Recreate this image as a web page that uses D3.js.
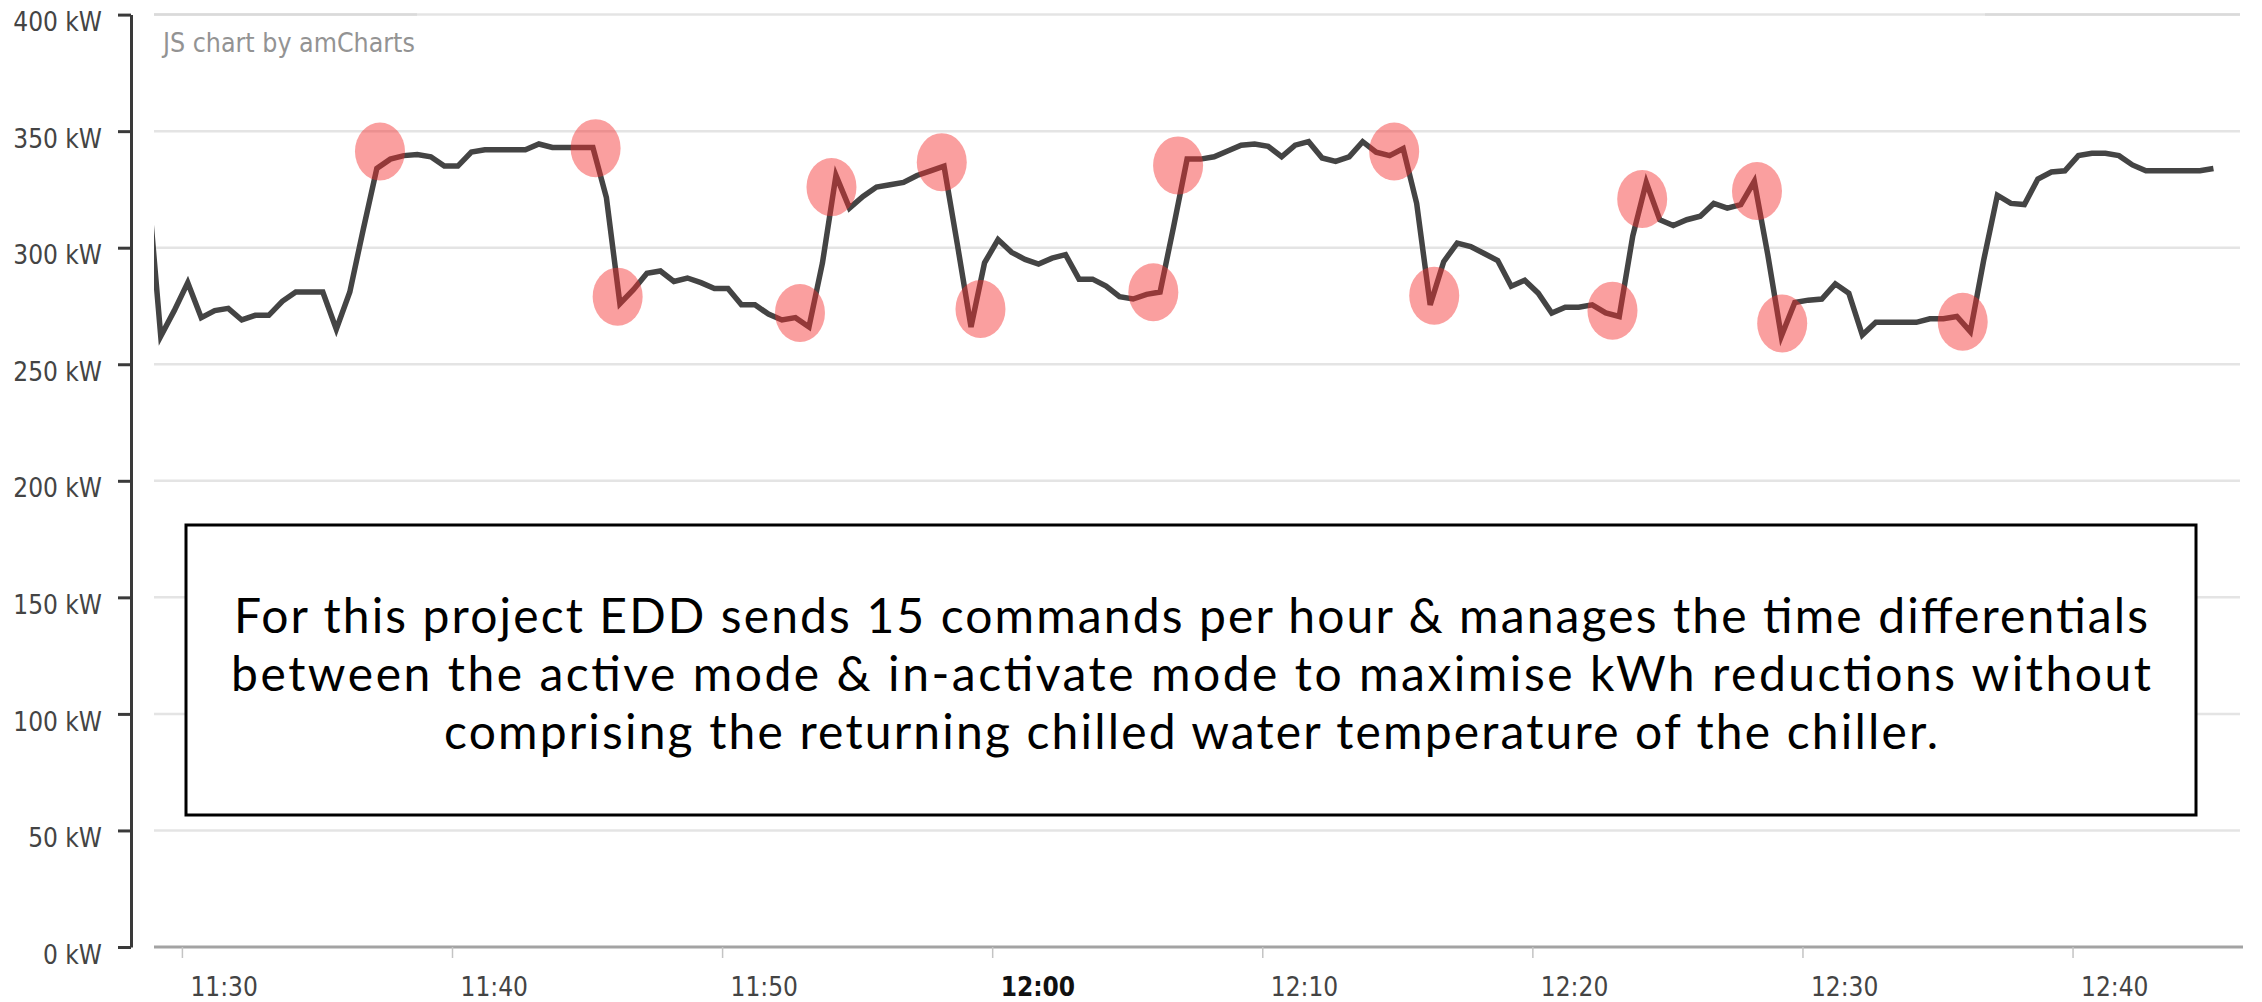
<!DOCTYPE html>
<html>
<head>
<meta charset="utf-8">
<script src="https://cdn.jsdelivr.net/npm/d3@7"></script>
<style>
  html, body { margin: 0; padding: 0; background: #fff; }
  svg { display: block; }
  .axis text { font-family: "DejaVu Sans Condensed", "DejaVu Sans", sans-serif; font-stretch: condensed; }
</style>
</head>
<body>
<svg id="chart" width="2262" height="1002"></svg>
<script>
// chiller power, one reading every 30 seconds (kW)
const startTime = "11:28:43";
const stepSeconds = 30;
const powerKw = [
  330, 262, 273, 285, 270, 273, 274, 269, 271, 271,
  277, 281, 281, 281, 265, 281, 308, 334, 338, 339.5,
  340, 339, 335, 335, 341, 342, 342, 342, 342, 344.5,
  343, 343, 343, 343, 321.5, 276, 282, 289, 290, 285.5,
  287, 285, 282.5, 282.5, 275.5, 275.5, 271.5, 269, 270, 266,
  293.5, 331, 317, 322, 326, 327, 328, 331, 333, 335,
  301, 266, 293.5, 303.5, 298, 295, 293, 295.5, 297, 286.5,
  286.5, 283.5, 279, 278, 280, 281, 309, 338, 338, 339,
  341.5, 344, 344.5, 343.5, 339, 344, 345.5, 338.5, 337, 339,
  345.5, 341, 339.5, 342.5, 319, 275.5, 294, 302, 300.5, 297.5,
  294.5, 283.5, 286, 280.5, 272, 274.5, 274.5, 275.5, 272, 270.5,
  305, 328, 312, 309.5, 312, 313.5, 319, 317, 318.5, 328.5,
  297, 262, 276.5, 277.5, 278, 284.5, 280.5, 262.5, 268, 268,
  268, 268, 269.5, 269.5, 270.5, 264, 295, 322.5, 319, 318.5,
  329.5, 332.5, 333, 339.5, 340.5, 340.5, 339.5, 335.5, 333, 333,
  333, 333, 333, 334
];

const yTicks = [0, 50, 100, 150, 200, 250, 300, 350, 400];
const xTicks = ["11:30", "11:40", "11:50", "12:00", "12:10", "12:20", "12:30", "12:40"];
const boldTick = "12:00";

// highlighted command points (time, kW)
const markerTimes = [
  "11:37:20", "11:45:19", "11:46:08", "11:52:53", "11:54:03", "11:58:08",
  "11:59:34", "12:05:58", "12:06:53", "12:14:53", "12:16:22", "12:22:58",
  "12:24:04", "12:28:19", "12:29:15", "12:35:56"
];
const markerKw = [
  341.3, 342.7, 279, 272, 326, 336.7,
  273.7, 280.9, 335.3, 341.3, 279.4, 273,
  320.9, 324.3, 267.5, 268.2
];

const noteLines = [
  "For this project EDD sends 15 commands per hour & manages the time differentials",
  "between the active mode & in-activate mode to maximise kWh reductions without",
  "comprising the returning chilled water temperature of the chiller."
];
const noteWidths = [1914, 1920, 1494];

const svg = d3.select("#chart");
const parseTime = d3.timeParse("%H:%M:%S");
const parseTick = d3.timeParse("%H:%M");

const plotLeft = 154, plotRight = 2240, plotTop = 14.6, plotBottom = 947;

const x = d3.scaleTime()
  .domain([parseTime("11:28:58"), parseTime("12:46:12")])
  .range([plotLeft, plotRight]);
const y = d3.scaleLinear().domain([0, 400]).range([plotBottom, plotTop]);

const t0 = parseTime(startTime);
const data = powerKw.map((v, i) => ({ t: new Date(t0.getTime() + i * stepSeconds * 1000), v: v }));

// grid
svg.append("g")
  .selectAll("line")
  .data(yTicks.filter((d) => d > 0))
  .enter()
  .append("line")
  .attr("x1", plotLeft)
  .attr("x2", plotRight)
  .attr("y1", (d) => y(d))
  .attr("y2", (d) => y(d))
  .attr("stroke", "#e4e4e4")
  .attr("stroke-width", 2.5);

// slightly darker bits of the top grid line
svg.append("line")
  .attr("x1", plotLeft).attr("x2", 417)
  .attr("y1", y(400)).attr("y2", y(400))
  .attr("stroke", "#dadada").attr("stroke-width", 2.5);
svg.append("line")
  .attr("x1", 1985).attr("x2", plotRight)
  .attr("y1", y(400)).attr("y2", y(400))
  .attr("stroke", "#dadada").attr("stroke-width", 2.5);

svg.append("text")
  .attr("x", 163)
  .attr("y", 52)
  .attr("font-family", '"DejaVu Sans Condensed", "DejaVu Sans", sans-serif')
  .attr("font-stretch", "condensed")
  .attr("font-size", 26.5)
  .attr("fill", "#939393")
  .text("JS chart by amCharts");

// line
svg.append("clipPath")
  .attr("id", "plot-clip")
  .append("rect")
  .attr("x", plotLeft)
  .attr("y", 0)
  .attr("width", plotRight - plotLeft)
  .attr("height", plotBottom);

const line = d3.line()
  .x((d) => x(d.t))
  .y((d) => y(d.v));

svg.append("path")
  .datum(data)
  .attr("clip-path", "url(#plot-clip)")
  .attr("d", line)
  .attr("fill", "none")
  .attr("stroke", "#444")
  .attr("stroke-width", 5.5)
  .attr("stroke-linejoin", "miter");

// red markers
svg.append("g")
  .selectAll("ellipse")
  .data(markerTimes)
  .enter()
  .append("ellipse")
  .attr("cx", (d) => x(parseTime(d)))
  .attr("cy", (d, i) => y(markerKw[i]))
  .attr("rx", 25)
  .attr("ry", 29)
  .attr("fill", "rgba(245, 45, 45, 0.46)");

// y axis
const yAxis = svg.append("g")
  .attr("class", "axis")
  .attr("transform", "translate(131,0)")
  .call(
    d3.axisLeft(y)
      .tickValues(yTicks)
      .tickSize(13)
      .tickSizeOuter(0)
      .tickPadding(16)
      .tickFormat((d) => d + " kW")
  );
yAxis.select(".domain").attr("stroke", "#3a3a3a").attr("stroke-width", 3);
yAxis.selectAll(".tick line").attr("stroke", "#3a3a3a").attr("stroke-width", 3);
yAxis.selectAll(".tick text")
  .attr("font-size", 26)
  .attr("fill", "#444")
  .attr("dy", "0.62em");

// x axis
const xAxis = svg.append("g")
  .attr("class", "axis")
  .attr("transform", "translate(0," + plotBottom + ")")
  .call(
    d3.axisBottom(x)
      .tickValues(xTicks.map((d) => parseTick(d)))
      .tickSize(11)
      .tickSizeOuter(0)
      .tickFormat(d3.timeFormat("%H:%M"))
  );
xAxis.select(".domain")
  .attr("d", "M" + plotLeft + ",0H2243")
  .attr("stroke", "#a3a3a3")
  .attr("stroke-width", 3);
xAxis.selectAll(".tick line").attr("stroke", "#c4c4c4").attr("stroke-width", 1.5);
xAxis.selectAll(".tick text")
  .attr("text-anchor", "start")
  .attr("x", 8)
  .attr("y", 49)
  .attr("dy", 0)
  .attr("font-size", 26)
  .attr("fill", (d) => (d3.timeFormat("%H:%M")(d) === boldTick ? "#111" : "#444"))
  .attr("font-weight", (d) => (d3.timeFormat("%H:%M")(d) === boldTick ? "bold" : "normal"));

// note box
svg.append("rect")
  .attr("x", 186)
  .attr("y", 525)
  .attr("width", 2010)
  .attr("height", 290)
  .attr("fill", "#fff")
  .attr("stroke", "#000")
  .attr("stroke-width", 3);

svg.append("g")
  .selectAll("text")
  .data(noteLines)
  .enter()
  .append("text")
  .attr("x", 1191)
  .attr("y", (d, i) => 633 + i * 58)
  .attr("text-anchor", "middle")
  .attr("font-family", "Lato, 'Noto Sans', sans-serif")
  .attr("font-size", 48)
  .attr("fill", "#000")
  .attr("textLength", (d, i) => noteWidths[i])
  .attr("lengthAdjust", "spacing")
  .text((d) => d);
</script>
</body>
</html>
